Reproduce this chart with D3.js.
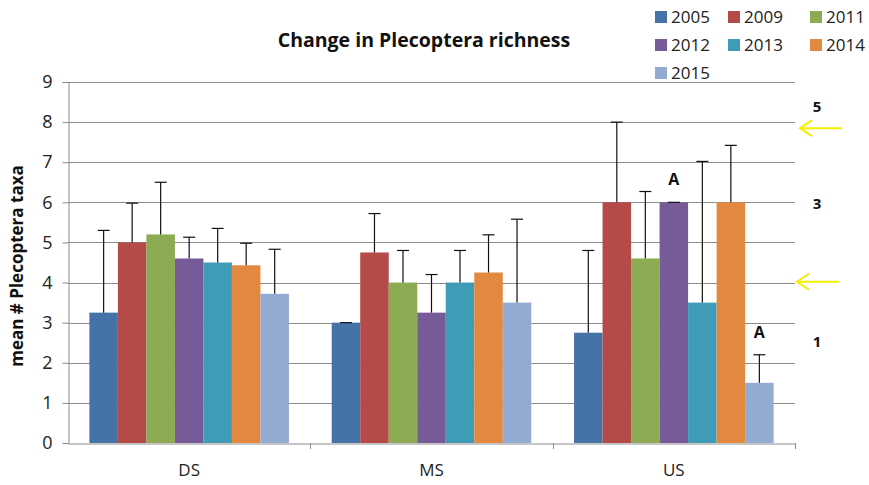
<!DOCTYPE html>
<html>
<head>
<meta charset="utf-8">
<script src="https://cdn.jsdelivr.net/npm/d3@7"></script>
<style>
  body { margin: 0; background: #fff; }
  svg { display: block; font-family: "Open Sans", "DejaVu Sans", sans-serif; }
</style>
</head>
<body>
<svg id="chart" width="869" height="485"></svg>
<script>
// Sites and sampling years
const sites = ["DS", "MS", "US"];
const years = ["2005", "2009", "2011", "2012", "2013", "2014", "2015"];

// Mean number of Plecoptera taxa per site, one array per year (DS, MS, US)
const y2005 = [3.25, 3.0, 2.75];
const y2009 = [5.0, 4.75, 6.0];
const y2011 = [5.2, 4.0, 4.6];
const y2012 = [4.6, 3.25, 6.0];
const y2013 = [4.5, 4.0, 3.5];
const y2014 = [4.43, 4.25, 6.0];
const y2015 = [3.72, 3.5, 1.5];

// Upper error (standard deviation) per year (DS, MS, US)
const e2005 = [2.05, 0.0, 2.05];
const e2009 = [0.98, 0.97, 2.0];
const e2011 = [1.3, 0.8, 1.67];
const e2012 = [0.53, 0.95, 0.0];
const e2013 = [0.85, 0.8, 3.52];
const e2014 = [0.55, 0.94, 1.42];
const e2015 = [1.11, 2.08, 0.7];

const yTicks = [0, 1, 2, 3, 4, 5, 6, 7, 8, 9];
const colors = ["#4572a7", "#b44b48", "#8dab52", "#775b98", "#3f9bb6", "#e3883f", "#93aad3"];

// Significance letters placed above bars
const letters = [
  { site: "US", year: "2012", text: "A" },
  { site: "US", year: "2015", text: "A" }
];
// Side annotations (value positions on the y scale)
const sideLabels = [ { text: "5", v: 8.38 }, { text: "3", v: 5.97 }, { text: "1", v: 2.53 } ];
const arrows = [7.85, 4.02];

const means = [y2005, y2009, y2011, y2012, y2013, y2014, y2015];
const errs = [e2005, e2009, e2011, e2012, e2013, e2014, e2015];
const data = [];
sites.forEach((s, si) => years.forEach((yr, yi) => {
  data.push({ site: s, year: yr, mean: means[yi][si], err: errs[yi][si], color: colors[yi] });
}));

const svg = d3.select("#chart");
const m = { left: 68, right: 795, top: 82, bottom: 443 };

const x0 = d3.scaleBand().domain(sites).range([m.left, m.right]).paddingInner(0).paddingOuter(0);
const x1 = d3.scaleBand().domain(years).range([0, x0.bandwidth()]).paddingInner(0).paddingOuter(0.75);
const y = d3.scaleLinear().domain([0, 9]).range([m.bottom, m.top]);

// horizontal gridlines
svg.append("g").selectAll("line").data(yTicks.slice(1)).join("line")
  .attr("x1", m.left).attr("x2", m.right)
  .attr("y1", d => Math.round(y(d)) + 0.5).attr("y2", d => Math.round(y(d)) + 0.5)
  .attr("stroke", "#8c8c8c").attr("stroke-width", 1);

// y axis
const yAxis = svg.append("g").attr("transform", `translate(${m.left + 0.5},0)`)
  .call(d3.axisLeft(y).tickValues(yTicks).tickSize(6).tickPadding(10));
yAxis.select(".domain").attr("stroke", "#8c8c8c");
yAxis.selectAll(".tick line").attr("stroke", "#8c8c8c");
yAxis.selectAll(".tick text").attr("font-size", 18).attr("fill", "#222")
  .attr("font-family", "'Open Sans', sans-serif");

// bars
svg.append("g").selectAll("rect").data(data).join("rect")
  .attr("x", d => x0(d.site) + x1(d.year))
  .attr("width", x1.bandwidth())
  .attr("y", d => y(d.mean))
  .attr("height", d => y(0) - y(d.mean))
  .attr("fill", d => d.color);

// error bars (upper only)
const eb = svg.append("g").attr("stroke", "#111").attr("stroke-width", 1.2);
eb.selectAll("line.v").data(data).join("line").attr("class", "v")
  .attr("x1", d => x0(d.site) + x1(d.year) + x1.bandwidth() / 2)
  .attr("x2", d => x0(d.site) + x1(d.year) + x1.bandwidth() / 2)
  .attr("y1", d => y(d.mean)).attr("y2", d => y(d.mean + d.err));
eb.selectAll("line.c").data(data).join("line").attr("class", "c")
  .attr("x1", d => x0(d.site) + x1(d.year) + x1.bandwidth() / 2 - 6)
  .attr("x2", d => x0(d.site) + x1(d.year) + x1.bandwidth() / 2 + 6)
  .attr("y1", d => y(d.mean + d.err)).attr("y2", d => y(d.mean + d.err));

// x axis
const xAxis = svg.append("g").attr("transform", `translate(0,${m.bottom + 0.5})`)
  .call(d3.axisBottom(x0).tickSize(0).tickPadding(20));
xAxis.select(".domain").attr("stroke", "#8c8c8c");
xAxis.selectAll(".tick text").attr("font-size", 17).attr("fill", "#222")
  .attr("font-family", "'Open Sans', sans-serif");
svg.append("g").selectAll("line").data(sites).join("line")
  .attr("x1", d => Math.round(x0(d) + x0.bandwidth()) + 0.5)
  .attr("x2", d => Math.round(x0(d) + x0.bandwidth()) + 0.5)
  .attr("y1", m.bottom).attr("y2", m.bottom + 6)
  .attr("stroke", "#8c8c8c");

// letters
svg.append("g").selectAll("text").data(letters).join("text")
  .attr("x", d => x0(d.site) + x1(d.year) + x1.bandwidth() / 2)
  .attr("y", d => {
    const r = data.find(e => e.site === d.site && e.year === d.year);
    return y(r.mean + r.err) - 17;
  })
  .attr("text-anchor", "middle").attr("font-weight", "bold").attr("font-size", 16)
  .attr("fill", "#111").text(d => d.text);

// side labels
svg.append("g").selectAll("text").data(sideLabels).join("text")
  .attr("x", 817).attr("y", d => y(d.v) + 5)
  .attr("text-anchor", "middle").attr("font-weight", "bold").attr("font-size", 15)
  .attr("fill", "#111").text(d => d.text);

// yellow arrows
const ag = svg.append("g").attr("stroke", "#f4f000").attr("stroke-width", 2).attr("fill", "none");
arrows.forEach(v => {
  const yy = y(v);
  const xs = v > 6 ? 800 : 797;
  ag.append("line").attr("x1", xs).attr("x2", xs + 42).attr("y1", yy).attr("y2", yy);
  ag.append("polyline").attr("points", `${xs + 12},${yy - 8} ${xs},${yy} ${xs + 12},${yy + 8}`);
});

// title
svg.append("text").attr("x", 424).attr("y", 47).attr("text-anchor", "middle")
  .attr("font-weight", "bold").attr("font-size", 19.5).attr("fill", "#111")
  .text("Change in Plecoptera richness");

// y-axis title
svg.append("text").attr("transform", "translate(23,266) rotate(-90)")
  .attr("text-anchor", "middle").attr("font-weight", "bold").attr("font-size", 17)
  .attr("fill", "#111").text("mean # Plecoptera taxa");

// legend
const legendCols = [655, 728, 810];
const lg = svg.append("g");
years.forEach((yr, i) => {
  const col = i % 3, row = Math.floor(i / 3);
  const gx = legendCols[col], gy = 17 + row * 28;
  lg.append("rect").attr("x", gx).attr("y", gy - 6).attr("width", 12).attr("height", 12).attr("fill", colors[i]);
  lg.append("text").attr("x", gx + 16).attr("y", gy + 6).attr("font-size", 17).attr("fill", "#222").text(yr);
});
</script>
</body>
</html>
